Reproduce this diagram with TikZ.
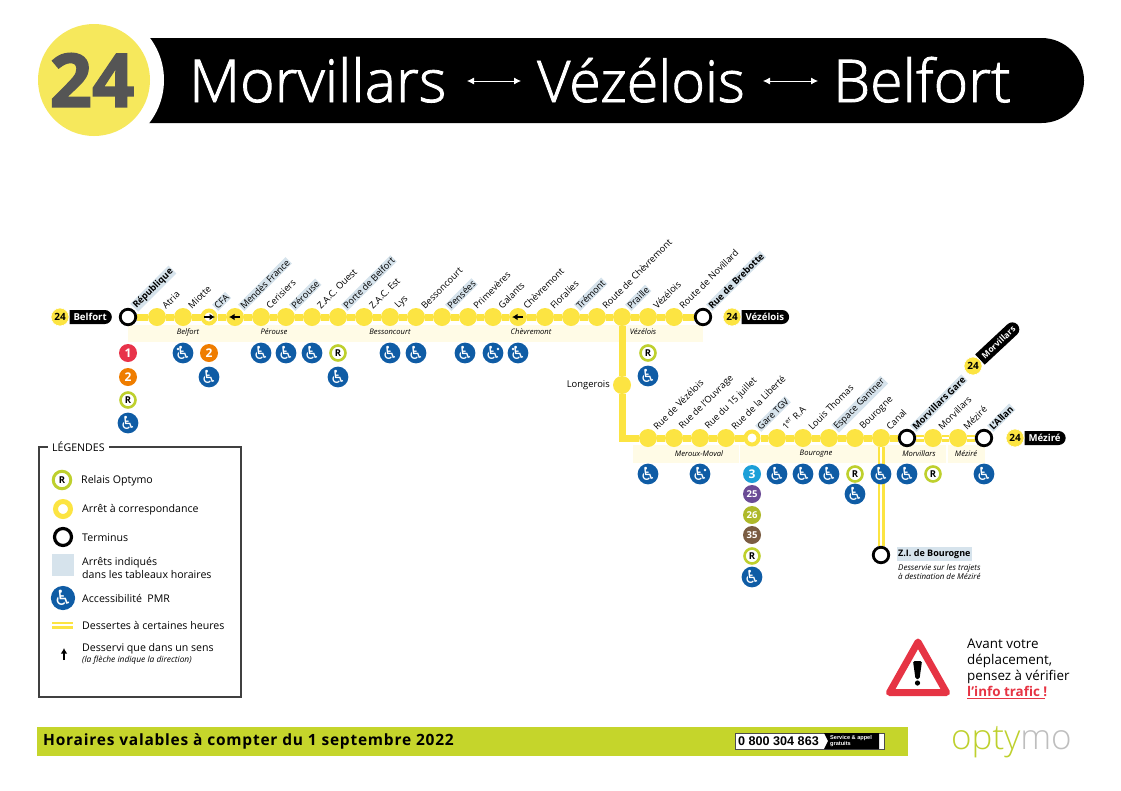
\documentclass[tikz,border=0pt]{standalone}
\usepackage{fontspec}
\setmainfont{Open Sans}
\newfontfamily\lightfont{Open Sans Light}
\newfontfamily\headfont{Open Sans Light}[FakeBold=1.5]
\newfontfamily\numfont{Open Sans Bold}[FakeBold=2]
\newfontfamily\phonefont{Liberation Sans}
\newfontfamily\symfont{DejaVu Sans}
\usetikzlibrary{arrows.meta,backgrounds,calc,shapes.misc}
\definecolor{line-yellow}{RGB}{252,228,66}
\definecolor{head-yellow}{RGB}{246,232,92}
\definecolor{band-yellow}{RGB}{255,251,230}
\definecolor{label-blue}{RGB}{214,227,236}
\definecolor{pmr-blue}{RGB}{15,92,165}
\definecolor{relais-green}{RGB}{190,208,45}
\definecolor{bar-green}{RGB}{197,213,43}
\definecolor{alert-red}{RGB}{230,52,68}
\definecolor{logo-grey}{RGB}{190,190,190}
\definecolor{num-grey}{RGB}{85,85,85}
\definecolor{num-red}{RGB}{232,51,74}
\definecolor{num-orange}{RGB}{239,125,0}
\definecolor{num-cyan}{RGB}{29,160,216}
\definecolor{num-purple}{RGB}{107,75,150}
\definecolor{num-olive}{RGB}{174,185,42}
\definecolor{num-brown}{RGB}{122,92,66}
\tikzset{
	ring/.style={circle, inner sep=0pt, minimum size=#1}
}
\tikzstyle{stopdot}=[ring=18pt, fill=line-yellow]
\tikzstyle{stopwhite}=[ring=13pt, fill=white, draw=line-yellow, line width=4pt]
\tikzstyle{terminus}=[ring=15.5pt, fill=white, draw=black, line width=2.8pt]
\tikzstyle{plainlabel}=[rotate=45, anchor=west, inner sep=1pt, font=\fontsize{9.2}{10}\selectfont]
\tikzstyle{shadelabel}=[plainlabel, fill=label-blue]
\tikzstyle{boldlabel}=[shadelabel, font=\fontsize{9.2}{10}\selectfont\bfseries]
\tikzstyle{commune}=[font=\fontsize{7.6}{9}\selectfont\itshape]
\tikzstyle{mainline}=[draw=line-yellow, line width=7pt]
\tikzstyle{service}=[draw=line-yellow, line width=2.5pt, double=white, double distance=2pt]
\tikzstyle{band}=[fill=band-yellow]
\tikzstyle{pmr}=[ring=18pt, fill=pmr-blue, text=white, font=\symfont\fontsize{18}{18}\selectfont]
\tikzstyle{relais}=[ring=15pt, fill=white, draw=relais-green, line width=2.6pt, font=\fontsize{9.5}{10}\selectfont\bfseries]
\tikzstyle{linenum}=[ring=18pt, text=white, font=\fontsize{12}{12}\selectfont\bfseries]
\tikzstyle{smallnum}=[linenum, font=\fontsize{9.5}{10}\selectfont\bfseries]
\tikzstyle{tagdot}=[ring=18pt, fill=line-yellow, draw=white, line width=.6pt, font=\fontsize{10}{10}\selectfont\bfseries]
\tikzstyle{tagpill}=[rounded rectangle, rounded rectangle left arc=none, fill=black, text=white, inner xsep=4pt, inner ysep=0pt, minimum height=14pt, font=\fontsize{9.6}{10}\selectfont\bfseries]
\tikzstyle{legendtext}=[anchor=west, inner sep=0pt, font=\fontsize{10.6}{13}\selectfont]
\tikzstyle{headtext}=[anchor=base west, inner sep=0pt, text=white, font=\headfont\fontsize{59}{59}\selectfont]
\tikzstyle{headarrow}=[{Latex[length=7pt,width=7pt]}-{Latex[length=7pt,width=7pt]}, white, line width=.8pt]
\tikzstyle{dirarrow}=[-{Latex[length=5.5pt,width=6.5pt]}, black, line width=1.3pt]
\newcommand{\wheelGlyph}{\symbol{"267F}}
\newcommand{\busStop}[6]{
	\node[#1] (#2) at (#3,#4) {};
	\node[#5] (#2-lab) at ($(#2)+(6,-9)$) {#6};
}
\newcommand{\lineTag}[5]{
	\node[tagdot] (#1) at (#2,#3) {24};
	\begin{scope}[on background layer]
		\node[tagpill, rotate=#4, anchor=west] (#1-pill) at (#1.#4) {#5};
	\end{scope}
}
\newcommand{\pmrSpark}[3]{
	\node[pmr] (#1) at (#2,353) {\wheelGlyph};
	\fill[white] ($(#1)+(#3,-4)$) circle (1.3pt);
}
\begin{document}
\begin{tikzpicture}[x=1pt,y=-1pt]
	\useasboundingbox (0,0) rectangle (1121,790);
	\fill[black, rounded corners=42.5pt] (100,38) rectangle (1084,123);
	\node[ring=140pt, fill=white] (headring) at (94,80) {};
	\node[ring=112pt, fill=head-yellow] (headdot) at (94,80) {};
	\node[text=num-grey, font=\numfont\fontsize{74}{74}\selectfont] (headnum) at (92,80) {24};
	\node[headtext] (head-a) at (189,102) {Morvillars};
	\node[headtext, font=\headfont\fontsize{57.5}{58}\selectfont] (head-b) at (537,102) {Vézélois};
	\node[headtext] (head-c) at (833,102) {Belfort};
	\coordinate (arrow-a1) at (467,81);
	\coordinate (arrow-a2) at (521,81);
	\coordinate (arrow-b1) at (763,81);
	\coordinate (arrow-b2) at (818,81);
	\draw[headarrow] (arrow-a1) -- (arrow-a2);
	\draw[headarrow] (arrow-b1) -- (arrow-b2);

	\busStop{terminus}{republique}{128}{317}{boldlabel}{République}
	\busStop{stopdot}{atria}{157}{317}{plainlabel}{Atria}
	\busStop{stopdot}{miotte}{183}{317}{plainlabel}{Miotte}
	\busStop{stopwhite}{cfa}{209}{317}{shadelabel}{CFA}
	\busStop{stopdot}{mendes}{235}{317}{shadelabel}{Mendès France}
	\busStop{stopdot}{cerisiers}{261}{317}{plainlabel}{Cerisiers}
	\busStop{stopdot}{perouse}{286}{317}{shadelabel}{Pérouse}
	\busStop{stopdot}{zacouest}{312}{317}{plainlabel}{Z.A.C. Ouest}
	\busStop{stopdot}{portebelfort}{338}{317}{shadelabel}{Porte de Belfort}
	\busStop{stopdot}{zacest}{364}{317}{plainlabel}{Z.A.C. Est}
	\busStop{stopdot}{lys}{390}{317}{plainlabel}{Lys}
	\busStop{stopdot}{bessoncourt}{416}{317}{plainlabel}{Bessoncourt}
	\busStop{stopdot}{pensees}{442}{317}{shadelabel}{Pensées}
	\busStop{stopdot}{primeveres}{468}{317}{plainlabel}{Primevères}
	\busStop{stopdot}{galants}{493}{317}{plainlabel}{Galants}
	\busStop{stopdot}{chevremont}{518}{317}{plainlabel}{Chèvremont}
	\busStop{stopdot}{floralies}{545}{317}{plainlabel}{Floralies}
	\busStop{stopdot}{tremont}{571}{317}{shadelabel}{Trémont}
	\busStop{stopdot}{routechev}{597}{317}{plainlabel}{Route de Chèvremont}
	\busStop{stopdot}{praille}{622}{317}{shadelabel}{Praille}
	\busStop{stopdot}{vezelois}{648}{317}{plainlabel}{Vézélois}
	\busStop{stopdot}{novillard}{674}{317}{plainlabel}{Route de Novillard}
	\busStop{terminus}{brebotte}{703}{317}{boldlabel}{Rue de Brebotte}

	\node[stopdot] (longerois) at (622,385) {};
	\node[legendtext, anchor=east, font=\fontsize{9.4}{10}\selectfont] (longerois-lab) at (610,385) {Longerois};
	\coordinate (corner) at (622,438);

	\busStop{stopdot}{ruevez}{648}{438}{plainlabel}{Rue de Vézélois}
	\busStop{stopdot}{ouvrage}{674}{438}{plainlabel}{Rue de l'Ouvrage}
	\busStop{stopdot}{juillet}{700}{438}{plainlabel}{Rue du 15 juillet}
	\busStop{stopdot}{liberte}{726}{438}{plainlabel}{Rue de la Liberté}
	\busStop{stopwhite}{garetgv}{752}{438}{shadelabel}{Gare TGV}
	\busStop{stopdot}{premier}{777}{438}{plainlabel}{1\textsuperscript{er} R.A}
	\busStop{stopdot}{thomas}{803}{438}{plainlabel}{Louis Thomas}
	\busStop{stopdot}{gantner}{829}{438}{shadelabel}{Espace Gantner}
	\busStop{stopdot}{bourogne}{855}{438}{plainlabel}{Bourogne}
	\busStop{stopdot}{canal}{881}{438}{plainlabel}{Canal}
	\busStop{terminus}{morvgare}{907}{438}{boldlabel}{Morvillars Gare}
	\busStop{stopdot}{morvillars}{933}{438}{plainlabel}{Morvillars}
	\busStop{stopdot}{mezire}{958}{438}{plainlabel}{Méziré}
	\busStop{terminus}{allan}{984}{438}{boldlabel}{L'Allan}
	\node[terminus] (zibourogne) at (881,555) {};

	\begin{scope}[on background layer]
		\fill[band] (128,325) rectangle (703,342);
		\fill[band] (633,445) rectangle (739,463);
		\fill[band] (740,445) rectangle (946,463);
		\fill[band] (948,445) rectangle (985,463);
		\draw[mainline] (republique) -- (atria) -- (miotte) -- (cfa) -- (mendes) -- (cerisiers) -- (perouse) -- (zacouest) -- (portebelfort) -- (zacest) -- (lys) -- (bessoncourt) -- (pensees) -- (primeveres) -- (galants) -- (chevremont) -- (floralies) -- (tremont) -- (routechev) -- (praille) -- (vezelois) -- (novillard) -- (brebotte);
		\draw[mainline] (praille) -- (longerois) -- (corner) -- (ruevez) -- (ouvrage) -- (juillet) -- (liberte) -- (garetgv) -- (premier) -- (thomas) -- (gantner) -- (bourogne) -- (canal) -- (morvgare);
		\draw[service] (morvgare) -- (morvillars);
		\draw[service] (morvillars) -- (mezire);
		\draw[service] (mezire) -- (allan);
		\draw[service] (canal) -- (zibourogne);
	\end{scope}

	\draw[dirarrow] ($(cfa)+(-5,0)$) -- ($(cfa)+(6,0)$);
	\draw[dirarrow] ($(mendes)+(5,0)$) -- ($(mendes)+(-6,0)$);
	\draw[dirarrow] ($(chevremont)+(5,0)$) -- ($(chevremont)+(-6,0)$);

	\node[commune] (c-belfort) at (188,332) {Belfort};
	\node[commune] (c-perouse) at (274,332) {Pérouse};
	\node[commune] (c-bessoncourt) at (390,332) {Bessoncourt};
	\node[commune] (c-chevremont) at (531,332) {Chèvremont};
	\node[commune] (c-vezelois) at (643,332) {Vézélois};
	\node[commune] (c-meroux) at (699,454) {Meroux-Moval};
	\node[commune] (c-bourogne) at (816,454) {Bourogne};
	\node[commune] (c-morvillars) at (919,454) {Morvillars};
	\node[commune] (c-mezire) at (966,454) {Méziré};

	\lineTag{tag-belfort}{60}{317}{0}{Belfort}
	\lineTag{tag-vezelois}{732}{317}{0}{Vézélois}
	\lineTag{tag-mezire}{1015}{438}{0}{Méziré}
	\lineTag{tag-morvillars}{973}{366}{43}{\fontsize{8.4}{9}\selectfont Morvillars}

	\node[linenum, fill=num-red] (n-rep1) at (128,353) {1};
	\node[linenum, fill=num-orange] (n-rep2) at (128,377) {2};
	\node[relais] (r-rep) at (128,400) {R};
	\node[pmr] (p-rep) at (128,423) {\wheelGlyph};
	\pmrSpark{p-miotte}{183}{-5}
	\node[linenum, fill=num-orange] (n-cfa) at (209,353) {2};
	\node[pmr] (p-cfa) at (209,377) {\wheelGlyph};
	\node[pmr] (p-cerisiers) at (261,353) {\wheelGlyph};
	\node[pmr] (p-perouse) at (286,353) {\wheelGlyph};
	\node[pmr] (p-zac) at (312,353) {\wheelGlyph};
	\node[relais] (r-porte) at (338,353) {R};
	\node[pmr] (p-porte) at (338,377) {\wheelGlyph};
	\node[pmr] (p-lys) at (390,353) {\wheelGlyph};
	\node[pmr] (p-bess) at (416,353) {\wheelGlyph};
	\node[pmr] (p-prim) at (465,353) {\wheelGlyph};
	\pmrSpark{p-galants}{493}{5}
	\pmrSpark{p-chev}{518}{-5}
	\node[relais] (r-vez) at (648,353) {R};
	\node[pmr] (p-vez) at (648,376) {\wheelGlyph};

	\node[pmr] (p-ruevez) at (648,474) {\wheelGlyph};
	\node[pmr] (p-juillet) at (700,474) {\wheelGlyph};
	\fill[white] ($(p-juillet)+(5,-4)$) circle (1.3pt);
	\node[linenum, fill=num-cyan] (n-3) at (752,474) {3};
	\node[smallnum, fill=num-purple] (n-25) at (752,494) {25};
	\node[smallnum, fill=num-olive] (n-26) at (752,515) {26};
	\node[smallnum, fill=num-brown] (n-35) at (752,535) {35};
	\node[relais] (r-gare) at (752,556) {R};
	\node[pmr] (p-gare) at (752,577) {\wheelGlyph};
	\node[pmr] (p-premier) at (777,474) {\wheelGlyph};
	\node[pmr] (p-thomas) at (803,474) {\wheelGlyph};
	\node[pmr] (p-gantner) at (829,474) {\wheelGlyph};
	\node[relais] (r-bourogne) at (855,474) {R};
	\node[pmr] (p-bourogne) at (855,494) {\wheelGlyph};
	\node[pmr] (p-canal) at (881,474) {\wheelGlyph};
	\node[pmr] (p-morvgare) at (907,474) {\wheelGlyph};
	\node[relais] (r-morv) at (933,474) {R};
	\node[pmr] (p-allan) at (984,474) {\wheelGlyph};

	\node[legendtext, fill=label-blue, inner sep=1pt, minimum height=14pt, font=\fontsize{9}{10}\selectfont\bfseries] (zi-lab) at (897,554) {Z.I. de Bourogne};
	\node[anchor=north west, inner sep=0pt, align=left, font=\fontsize{8}{9.5}\selectfont\itshape] (zi-note) at (898,564) {Desservie sur les trajets\\à destination de Méziré};

	\draw[draw=black!75, line width=1.1pt] (39,447) rectangle (241,697);
	\node[legendtext, fill=white, inner xsep=4pt] (leg-title) at (48,447) {LÉGENDES};
	\node[relais, ring=17.5pt, line width=3pt] (leg-r) at (62,480) {R};
	\node[legendtext] (leg-r-t) at (81,481) {Relais Optymo};
	\node[stopwhite, ring=15pt, line width=5pt] (leg-c) at (63,509) {};
	\node[legendtext] (leg-c-t) at (82,510) {Arrêt à correspondance};
	\node[terminus, ring=17pt, line width=3.2pt] (leg-t) at (63,537) {};
	\node[legendtext] (leg-t-t) at (82,537.5) {Terminus};
	\node[fill=label-blue, minimum width=22pt, minimum height=22pt, inner sep=0pt] (leg-s) at (63,565) {};
	\node[legendtext, align=left] (leg-s-t) at (82,567.5) {Arrêts indiqués\\dans les tableaux horaires};
	\node[pmr, ring=21pt, font=\symfont\fontsize{21}{21}\selectfont] (leg-p) at (63,598) {\wheelGlyph};
	\node[legendtext] (leg-p-t) at (82,598) {Accessibilité\ \ PMR};
	\coordinate (leg-d1) at (52,625);
	\coordinate (leg-d2) at (73,625);
	\draw[service] (leg-d1) -- (leg-d2);
	\node[legendtext] (leg-d-t) at (82,625) {Dessertes à certaines heures};
	\coordinate (leg-a1) at (64,660);
	\coordinate (leg-a2) at (64,648);
	\draw[dirarrow] (leg-a1) -- (leg-a2);
	\node[legendtext] (leg-a-t) at (82,649) {Desservi que dans un sens};
	\node[legendtext, font=\fontsize{8.4}{9}\selectfont\itshape] (leg-a-n) at (82,660) {(la flèche indique la direction)};

	\draw[alert-red, fill=white, line width=7pt, line join=round] (918,642) -- (946.5,692.5) -- (889.5,692.5) -- cycle;
	\fill[black, rounded corners=1.5pt] (913,661) -- (922,661) -- (919.5,679) -- (915.5,679) -- cycle;
	\fill[black] (917.5,683) circle (2.6pt);
	\node[anchor=north west, inner sep=0pt, align=left, font=\fontsize{13.4}{16}\selectfont] (alert-t) at (967,638.5) {Avant votre\\déplacement,\\pensez à vérifier\\\textcolor{alert-red}{\bfseries l’info trafic !}};
	\coordinate (alert-u1) at (967,698);
	\coordinate (alert-u2) at (1045,698);
	\draw[alert-red, line width=.8pt] (alert-u1) -- (alert-u2);

	\fill[bar-green] (37,727) rectangle (908,756);
	\node[anchor=west, inner sep=0pt, font=\fontsize{15.5}{16}\selectfont\bfseries\addfontfeatures{LetterSpace=5}] (bar-t) at (43,741) {Horaires valables à compter du 1 septembre 2022};
	\draw[black!70, fill=white, line width=.6pt] (735,733) rectangle (884,749);
	\fill[black] (824,733) -- (879,733) -- (879,749) -- (824,749) -- (828,741) -- cycle;
	\node[anchor=west, inner sep=0pt, font=\phonefont\fontsize{12.6}{13}\selectfont\bfseries] (phone) at (738,741) {0 800 304 863};
	\node[anchor=west, inner sep=0pt, text=white, align=left, font=\phonefont\fontsize{5.6}{6}\selectfont\bfseries] (phone-t) at (830,741) {Service \& appel\\gratuits};
	\node[anchor=base west, inner sep=0pt, font=\lightfont\fontsize{35}{35}\selectfont] (logo) at (951,749) {\textcolor{relais-green}{opty}\textcolor{logo-grey}{mo}};
\end{tikzpicture}
\end{document}
